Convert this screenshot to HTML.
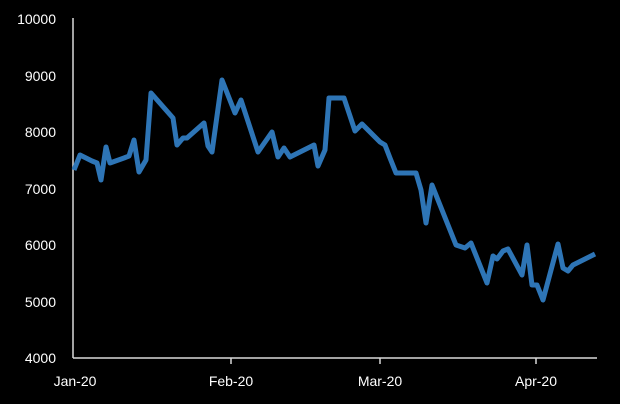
<!DOCTYPE html>
<html><head><style>body{margin:0;background:#000}</style></head><body>
<svg width="620" height="404" xmlns="http://www.w3.org/2000/svg" style="display:block;background:#000">
<g font-family="Liberation Sans, Arial, sans-serif" font-size="14" fill="#fff" text-anchor="end">
<text x="56" y="24">10000</text>
<text x="56" y="81">9000</text>
<text x="56" y="137">8000</text>
<text x="56" y="194">7000</text>
<text x="56" y="250">6000</text>
<text x="56" y="307">5000</text>
<text x="56" y="363">4000</text>
</g>
<g font-family="Liberation Sans, Arial, sans-serif" font-size="14" fill="#fff" text-anchor="middle">
<text x="75" y="386">Jan-20</text>
<text x="231" y="386">Feb-20</text>
<text x="380" y="386">Mar-20</text>
<text x="536" y="386">Apr-20</text>
</g>
<g stroke="#d9d9d9" stroke-width="1.5" fill="none">
<line x1="73" y1="18" x2="73" y2="358"/>
<line x1="73" y1="358" x2="597" y2="358"/>
<line x1="231" y1="358" x2="231" y2="364"/>
<line x1="380" y1="358" x2="380" y2="364"/>
<line x1="536" y1="358" x2="536" y2="364"/>
</g>
<polyline fill="none" stroke="#2e75b6" stroke-width="5" stroke-linejoin="round" points="74,170 80,155 92,161 97,163 101,180 106,147 110,163 124,158 129,156 134,140 139,172 146,160 151,93 173,118 177,145 183,138 187,138 204,123 208,146 212,152 222,80 235,113 241,100 258,152 272,132 278,157 284,148 290,157 314,145 318,166 325,150 329,98 344,98 355,131 362,124 380,142 385,145 390,158 396,173 416,173 421,190 426,223 432,185 456,245 465,248 471,243 487,283 493,256 497,259 503,251 508,249 522,275 527,245 532,285 537,285 543,300 558,244 563,268 568,271 573,265 595,254"/>
</svg>
</body></html>
